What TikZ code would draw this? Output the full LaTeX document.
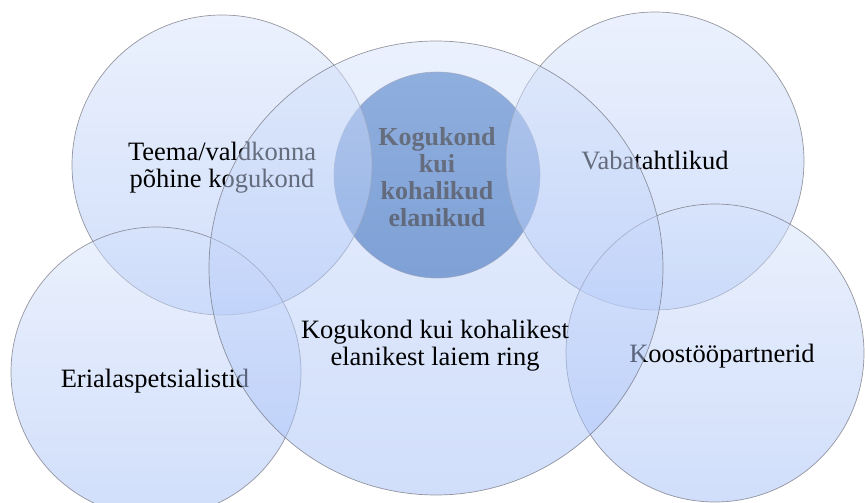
\documentclass[tikz,border=0pt]{standalone}
\usepackage{fontspec}
\setmainfont{Liberation Serif}
\usepackage{tikz}
\usetikzlibrary{shapes.geometric}

\definecolor{ringtop}{RGB}{215,227,251}
\definecolor{ringbottom}{RGB}{163,190,247}
\definecolor{ringedge}{RGB}{110,110,120}
\definecolor{coretop}{RGB}{74,124,194}
\definecolor{corebottom}{RGB}{66,114,178}

\begin{document}
\begin{tikzpicture}[x=1pt, y=-1pt, font=\fontsize{26.5}{27}\selectfont]
		\tikzstyle{ring} = [circle, inner sep=0pt, draw=ringedge, draw opacity=0.7, line width=0.7pt, top color=ringtop, bottom color=ringbottom, fill opacity=0.5, text opacity=1]
		
		\tikzstyle{core} = [circle, inner sep=0pt, draw=ringedge, draw opacity=0.7, line width=0.7pt, top color=coretop, bottom color=corebottom]
		
		\tikzstyle{ringtext} = [align=center, inner sep=0pt]
		
		\useasboundingbox (0,0) rectangle (865,503);
		
		% Inner circle first, the big ring is laid over it
		\node (core) [core, minimum size=206pt] at (437,175) {};
		\node (coretext) [ringtext, font=\fontsize{26}{27}\selectfont\bfseries] at (437,177) {Kogukond\\kui\\kohalikud\\elanikud};
		
		% Outer circles
		\node (theme) [ring, minimum size=300pt] at (222,165) {};
		\node (themetext) [ringtext] at (222,168) {Teema/valdkonna\\põhine kogukond};
		
		\node (volunteer) [ring, minimum size=298pt] at (655,161) {};
		\node (volunteertext) [ringtext] at (655,161) {Vabatahtlikud};
		
		\node (expert) [ring, minimum size=290pt] at (156,372) {};
		\node (experttext) [ringtext] at (155,381) {Erialaspetsialistid};
		
		\node (partner) [ring, minimum size=298pt] at (715,353) {};
		\node (partnertext) [ringtext] at (722,356) {Koostööpartnerid};
		
		% Big ring on top
		\node (wide) [ring, minimum size=454pt] at (436,268) {};
		\node (widetext) [ringtext] at (435,346) {Kogukond kui kohalikest\\elanikest laiem ring};
	\end{tikzpicture}
\end{document}
